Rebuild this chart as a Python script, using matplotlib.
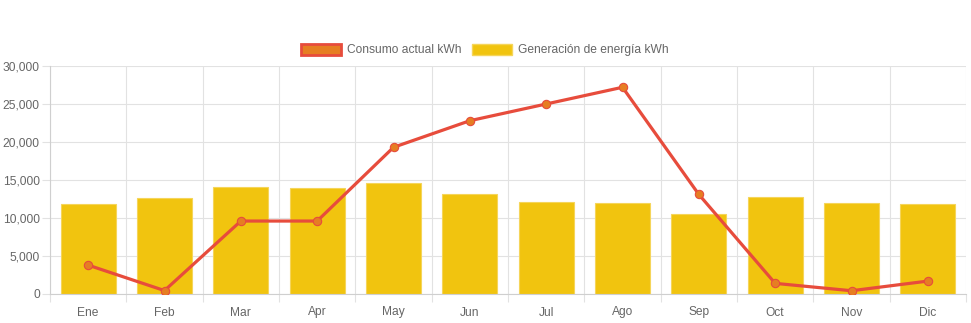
import matplotlib
matplotlib.use("Agg")
import matplotlib.pyplot as plt
from matplotlib.patches import Patch
from matplotlib.ticker import FuncFormatter, FixedLocator
import numpy as np

months = ["Ene", "Feb", "Mar", "Apr", "May", "Jun", "Jul", "Ago", "Sep", "Oct", "Nov", "Dic"]
consumo = [3800, 450, 9600, 9600, 19300, 22800, 25000, 27200, 13100, 1400, 430, 1700]
generacion = [11900, 12600, 14100, 14000, 14600, 13200, 12100, 12000, 10500, 12700, 12000, 11900]
yticks = [0, 5000, 10000, 15000, 20000, 25000, 30000]

plt.rcParams['font.family'] = ['Liberation Sans', 'DejaVu Sans']
txt = '#666666'
grid = '#e2e2e2'
fs = 8.64  # 12 px

fig = plt.figure(figsize=(9.71, 3.23), dpi=100)
ax = fig.add_axes([50/971, 29/323, 916/971, 228/323])
x = np.arange(len(months))

ax.bar(x, generacion, width=0.72, color='#f1c40f', edgecolor='#f5d55a', linewidth=0.8, zorder=2)
ax.plot(x, consumo, color='#e74c3c', linewidth=2.3, marker='o', markersize=6,
        markerfacecolor='#e67e22', markeredgecolor='#e74c3c', markeredgewidth=0.8, zorder=3)

ax.set_xlim(-0.5, len(months) - 0.5)
ax.set_ylim(0, 30000)
ax.set_xticks(x)
ax.set_xticklabels(months)
ax.xaxis.set_minor_locator(FixedLocator(np.arange(-0.5, len(months), 1.0)))
ax.set_yticks(yticks)
ax.yaxis.set_major_formatter(FuncFormatter(lambda v, p: f"{int(v):,}"))

ax.tick_params(axis='x', which='major', length=0, pad=9, labelsize=fs, labelcolor=txt)
ax.tick_params(axis='x', which='minor', length=5.8, color=grid, width=0.8)
ax.tick_params(axis='y', which='major', length=5.8, color=grid, width=0.8, pad=1.5, labelsize=fs, labelcolor=txt)

ax.grid(True, which='minor', axis='x', color=grid, linewidth=0.8, zorder=0)
ax.grid(True, which='major', axis='y', color=grid, linewidth=0.8, zorder=0)
ax.grid(False, which='major', axis='x')
ax.set_axisbelow(True)

for s in ['top', 'right']:
    ax.spines[s].set_visible(False)
ax.spines['left'].set_color('#cfcfcf')
ax.spines['bottom'].set_color('#cfcfcf')
ax.spines['left'].set_linewidth(0.8)
ax.spines['bottom'].set_linewidth(0.8)

handles = [Patch(facecolor='#e67e22', edgecolor='#e74c3c', linewidth=2, label='Consumo actual kWh'),
           Patch(facecolor='#f1c40f', edgecolor='#f5d55a', linewidth=1, label='Generación de energía kWh')]
leg = fig.legend(handles=handles, loc='center', bbox_to_anchor=(485/971, 1 - 50/323), ncol=2,
                 frameon=False, fontsize=fs, handlelength=3.33, handleheight=1.1,
                 columnspacing=0.83, handletextpad=0.55)
for t in leg.get_texts():
    t.set_color(txt)

fig.savefig('out.png', dpi=100)
